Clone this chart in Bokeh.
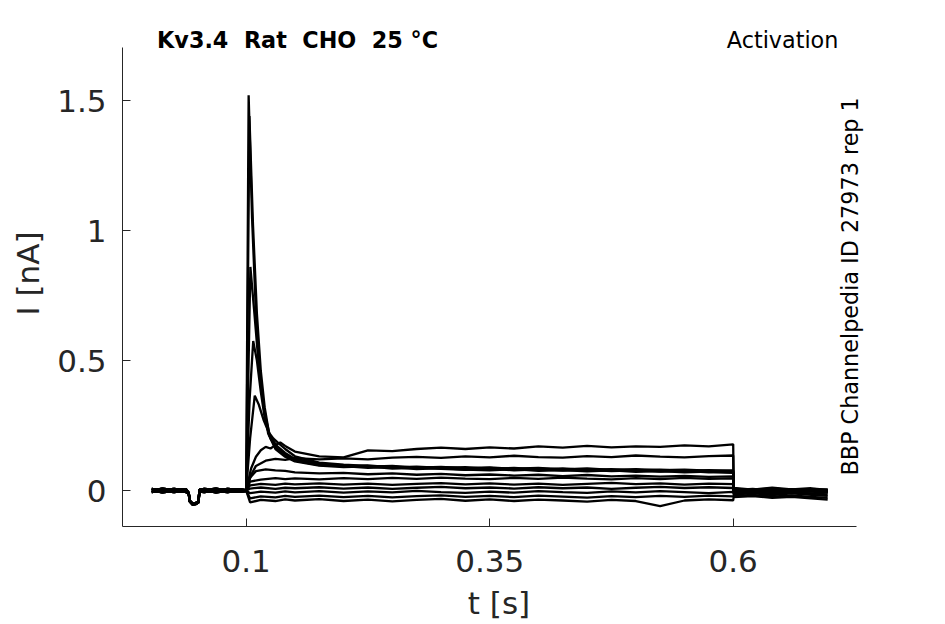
from bokeh.plotting import figure
from bokeh.models import Range1d, FixedTicker, NumeralTickFormatter, Label, ColumnDataSource
from bokeh.embed import file_html
from bokeh.resources import INLINE

# ---------------- data ----------------
T_PRE = [0.003, 0.008, 0.014, 0.02, 0.026, 0.032, 0.038, 0.041, 0.042, 0.045, 0.048, 0.051, 0.052,
         0.057, 0.063, 0.069, 0.075, 0.081, 0.087, 0.093, 0.0995]
I_PRE_1 = [0.007, 0.004, 0.008, 0.005, 0.007, 0.004, 0.006, -0.008, -0.038, -0.05, -0.048, -0.042, 0.004,
           0.007, 0.005, 0.008, 0.004, 0.007, 0.005, 0.006, 0.002]
I_PRE_2 = [-0.006, -0.003, -0.007, -0.004, -0.006, -0.003, -0.005, -0.012, -0.042, -0.054, -0.052, -0.046, -0.004,
           -0.006, -0.003, -0.007, -0.004, -0.006, -0.003, -0.005, -0.002]
I_PRE_3 = [0.001, -0.002, 0.002, -0.001, 0.002, -0.002, 0.001, -0.01, -0.04, -0.052, -0.05, -0.044, 0.0,
           0.002, -0.001, 0.001, -0.002, 0.002, -0.001, 0.001, 0.0]

T_SUS = [0.15, 0.175, 0.2, 0.225, 0.25, 0.275, 0.3, 0.325, 0.35, 0.375, 0.4, 0.425, 0.45, 0.475, 0.5, 0.525, 0.55, 0.575, 0.6]
T_POST = [0.6005, 0.62, 0.64, 0.66, 0.68, 0.697]

T_LOW = [0.1, 0.104, 0.115, 0.13, 0.14]

trace_A_t = [0.1, 0.1025, 0.106, 0.11, 0.114, 0.118, 0.1225, 0.13, 0.14]
trace_A_i = [0.0, 1.52, 1.05, 0.68, 0.46, 0.32, 0.22, 0.16, 0.13]
trace_A_sus = [0.112, 0.096, 0.09, 0.093, 0.085, 0.088, 0.084, 0.08, 0.085, 0.078, 0.082, 0.077, 0.08, 0.075, 0.078, 0.073, 0.076, 0.07, 0.072]
trace_A_post = [0.004, -0.003, 0.005, -0.002, 0.003, -0.001]

trace_B_t = [0.1, 0.1033, 0.107, 0.111, 0.115, 0.119, 0.1235, 0.13, 0.14]
trace_B_i = [0.0, 1.44, 1.02, 0.68, 0.46, 0.32, 0.22, 0.165, 0.135]
trace_B_sus = [0.115, 0.098, 0.094, 0.088, 0.09, 0.083, 0.087, 0.081, 0.078, 0.083, 0.076, 0.079, 0.074, 0.078, 0.072, 0.075, 0.07, 0.073, 0.068]
trace_B_post = [-0.002, 0.004, -0.003, 0.003, -0.004, 0.002]

trace_C_t = [0.1, 0.1043, 0.108, 0.112, 0.116, 0.12, 0.125, 0.132, 0.14]
trace_C_i = [0.0, 0.86, 0.7, 0.52, 0.38, 0.28, 0.2, 0.16, 0.14]
trace_C_sus = [0.118, 0.102, 0.093, 0.097, 0.089, 0.092, 0.087, 0.09, 0.084, 0.087, 0.082, 0.085, 0.08, 0.083, 0.078, 0.081, 0.076, 0.079, 0.075]
trace_C_post = [0.008, 0.002, 0.009, 0.003, 0.007, 0.004]

trace_D_t = [0.1, 0.1035, 0.1072, 0.111, 0.115, 0.119, 0.124, 0.132, 0.14]
trace_D_i = [0.0, 0.35, 0.575, 0.5, 0.38, 0.28, 0.21, 0.17, 0.145]
trace_D_sus = [0.122, 0.105, 0.097, 0.092, 0.095, 0.088, 0.091, 0.086, 0.089, 0.084, 0.087, 0.082, 0.085, 0.08, 0.083, 0.079, 0.081, 0.077, 0.078]
trace_D_post = [-0.004, 0.002, -0.005, 0.001, -0.003, -0.006]

trace_E_t = [0.1, 0.104, 0.1088, 0.113, 0.118, 0.123, 0.128, 0.134, 0.14]
trace_E_i = [0.0, 0.2, 0.365, 0.33, 0.27, 0.225, 0.2, 0.18, 0.16]
trace_E_sus = [0.132, 0.108, 0.1, 0.095, 0.092, 0.088, 0.09, 0.085, 0.087, 0.082, 0.085, 0.08, 0.083, 0.078, 0.08, 0.075, 0.077, 0.072, 0.07]
trace_E_post = [0.002, 0.007, 0.0, 0.006, 0.001, 0.004]

trace_F_t = [0.1, 0.105, 0.11, 0.115, 0.12, 0.125, 0.13, 0.135, 0.14]
trace_F_i = [0.0, 0.085, 0.13, 0.155, 0.168, 0.162, 0.175, 0.185, 0.172]
trace_F_sus = [0.15, 0.132, 0.128, 0.155, 0.152, 0.16, 0.165, 0.16, 0.166, 0.162, 0.17, 0.165, 0.172, 0.166, 0.17, 0.168, 0.174, 0.17, 0.178]
trace_F_post = [0.01, 0.004, 0.011, 0.005, 0.009, 0.003]

trace_G_t = [0.1, 0.105, 0.11, 0.12, 0.13, 0.14]
trace_G_i = [0.0, 0.06, 0.095, 0.115, 0.122, 0.118]
trace_G_sus = [0.125, 0.12, 0.124, 0.12, 0.127, 0.13, 0.126, 0.132, 0.128, 0.134, 0.129, 0.127, 0.133, 0.129, 0.135, 0.131, 0.128, 0.133, 0.135]
trace_G_post = [0.006, 0.0, 0.007, 0.001, 0.005, 0.0]

trace_H_t = [0.1, 0.104, 0.11, 0.12, 0.13, 0.14]
trace_H_i = [0.0, 0.05, 0.075, 0.082, 0.078, 0.076]
trace_H_sus = [0.07, 0.066, 0.068, 0.063, 0.066, 0.061, 0.064, 0.059, 0.062, 0.058, 0.061, 0.056, 0.06, 0.055, 0.058, 0.054, 0.057, 0.053, 0.055]
trace_H_post = [0.0, -0.005, 0.002, -0.004, 0.001, -0.006]

trace_L1_i = [0.0, 0.035, 0.042, 0.048, 0.044]
trace_L1_sus = [0.047, 0.043, 0.048, 0.044, 0.049, 0.045, 0.05, 0.046, 0.044, 0.049, 0.045, 0.05, 0.046, 0.043, 0.048, 0.044, 0.049, 0.045, 0.047]
trace_L1_post = [0.004, -0.002, 0.005, -0.001, 0.003, -0.003]

trace_L2_i = [0.0, 0.02, 0.026, 0.022, 0.027]
trace_L2_sus = [0.024, 0.028, 0.023, 0.027, 0.022, 0.026, 0.029, 0.024, 0.028, 0.023, 0.027, 0.022, 0.026, 0.03, 0.025, 0.028, 0.023, 0.027, 0.025]
trace_L2_post = [-0.005, 0.0, -0.006, -0.001, -0.004, -0.008]

trace_L3_i = [0.0, 0.008, 0.012, 0.007, 0.011]
trace_L3_sus = [0.009, 0.013, 0.008, 0.012, 0.007, 0.011, 0.014, 0.009, 0.012, 0.008, 0.013, 0.009, 0.012, 0.007, 0.011, 0.014, 0.01, 0.013, 0.01]
trace_L3_post = [-0.01, -0.005, -0.012, -0.006, -0.011, -0.015]

trace_L4_i = [0.0, -0.01, -0.004, -0.008, -0.003]
trace_L4_sus = [-0.007, -0.002, -0.008, -0.003, -0.007, -0.001, -0.006, -0.009, -0.004, -0.008, -0.002, -0.006, -0.009, -0.003, -0.007, -0.002, -0.006, -0.01, -0.005]
trace_L4_post = [-0.015, -0.01, -0.017, -0.011, -0.016, -0.02]

trace_L5_i = [0.0, -0.03, -0.022, -0.026, -0.02]
trace_L5_sus = [-0.024, -0.019, -0.025, -0.02, -0.026, -0.021, -0.018, -0.024, -0.02, -0.025, -0.019, -0.023, -0.027, -0.021, -0.025, -0.02, -0.024, -0.019, -0.022]
trace_L5_post = [-0.02, -0.016, -0.023, -0.018, -0.024, -0.028]

trace_L6_i = [0.0, -0.045, -0.036, -0.04, -0.034]
trace_L6_sus = [-0.038, -0.033, -0.04, -0.035, -0.041, -0.036, -0.032, -0.039, -0.034, -0.04, -0.035, -0.038, -0.042, -0.036, -0.04, -0.06, -0.038, -0.034, -0.037]
trace_L6_post = [-0.025, -0.021, -0.028, -0.024, -0.03, -0.035]

X_TICKS = [0.1, 0.35, 0.6]
Y_TICKS = [0, 0.5, 1, 1.5]
X_AXIS_SPAN = (-0.027, 0.7266)
Y_AXIS_SPAN = (-0.138, 1.704)

TITLE_LEFT = "Kv3.4\u00a0 Rat\u00a0 CHO\u00a0 25 °C"
TITLE_RIGHT = "Activation"
SIDE_TEXT = "BBP Channelpedia ID 27973 rep 1"
X_LABEL = "t [s]"
Y_LABEL = "I [nA]"

# ---------------- assemble traces ----------------
traces = [
    (trace_A_t, trace_A_i, trace_A_sus, trace_A_post),
    (trace_B_t, trace_B_i, trace_B_sus, trace_B_post),
    (trace_C_t, trace_C_i, trace_C_sus, trace_C_post),
    (trace_D_t, trace_D_i, trace_D_sus, trace_D_post),
    (trace_E_t, trace_E_i, trace_E_sus, trace_E_post),
    (trace_F_t, trace_F_i, trace_F_sus, trace_F_post),
    (trace_G_t, trace_G_i, trace_G_sus, trace_G_post),
    (trace_H_t, trace_H_i, trace_H_sus, trace_H_post),
    (T_LOW, trace_L1_i, trace_L1_sus, trace_L1_post),
    (T_LOW, trace_L2_i, trace_L2_sus, trace_L2_post),
    (T_LOW, trace_L3_i, trace_L3_sus, trace_L3_post),
    (T_LOW, trace_L4_i, trace_L4_sus, trace_L4_post),
    (T_LOW, trace_L5_i, trace_L5_sus, trace_L5_post),
    (T_LOW, trace_L6_i, trace_L6_sus, trace_L6_post),
]
PRE_VARIANTS = [I_PRE_1, I_PRE_2, I_PRE_3]

xs, ys = [], []
for k, (tt, ti, sus, post) in enumerate(traces):
    pre = PRE_VARIANTS[k % 3]
    xs.append(T_PRE + tt + T_SUS + T_POST)
    ys.append(pre + ti + sus + post)

src = ColumnDataSource(data=dict(xs=xs, ys=ys))

FONT = "DejaVu Sans"
AX_COL = "#262626"

# frame extends a little above / right of the axes so the annotations are not clipped
p = figure(width=937, height=624,
           x_range=Range1d(-0.027, 0.7461), y_range=Range1d(-0.138, 1.8078),
           output_backend="svg", toolbar_location=None,
           min_border_left=122, min_border_right=62,
           min_border_top=20, min_border_bottom=98)
p.outline_line_color = None
p.xgrid.visible = False
p.ygrid.visible = False
p.background_fill_color = "white"
p.border_fill_color = "white"

p.multi_line(xs="xs", ys="ys", source=src, line_color="black", line_width=2.3)

for ax in (p.xaxis[0], p.yaxis[0]):
    ax.major_tick_in = 8
    ax.major_tick_out = 0
    ax.minor_tick_line_color = None
    ax.axis_line_color = AX_COL
    ax.major_tick_line_color = AX_COL
    ax.major_label_text_font = FONT
    ax.major_label_text_font_size = "31px"
    ax.major_label_text_color = AX_COL
    ax.axis_label_text_font = FONT
    ax.axis_label_text_font_size = "31px"
    ax.axis_label_text_font_style = "normal"
    ax.axis_label_text_color = AX_COL
    ax.formatter = NumeralTickFormatter(format="0.[00]")

p.xaxis[0].ticker = FixedTicker(ticks=X_TICKS)
p.yaxis[0].ticker = FixedTicker(ticks=Y_TICKS)
p.xaxis[0].bounds = X_AXIS_SPAN
p.yaxis[0].bounds = Y_AXIS_SPAN
p.xaxis[0].axis_label = X_LABEL
p.yaxis[0].axis_label = Y_LABEL
p.xaxis[0].major_label_standoff = 23
p.xaxis[0].axis_label_standoff = 10
p.yaxis[0].major_label_standoff = 16
p.yaxis[0].axis_label_standoff = 8

p.add_layout(Label(x=0.0085, y=1.731, text=TITLE_LEFT, text_font=FONT,
                   text_font_style="bold", text_font_size="22.3px",
                   text_color="black", text_baseline="alphabetic", text_align="left"))
p.add_layout(Label(x=0.708, y=1.731, text=TITLE_RIGHT, text_font=FONT,
                   text_font_size="22.3px", text_color="black",
                   text_baseline="alphabetic", text_align="right"))
p.add_layout(Label(x=0.7204, y=0.058, text=SIDE_TEXT, text_font=FONT,
                   text_font_size="22.3px", text_color="black", angle=1.5708,
                   text_baseline="middle", text_align="left"))

open("out.html", "w").write(file_html(p, INLINE))
